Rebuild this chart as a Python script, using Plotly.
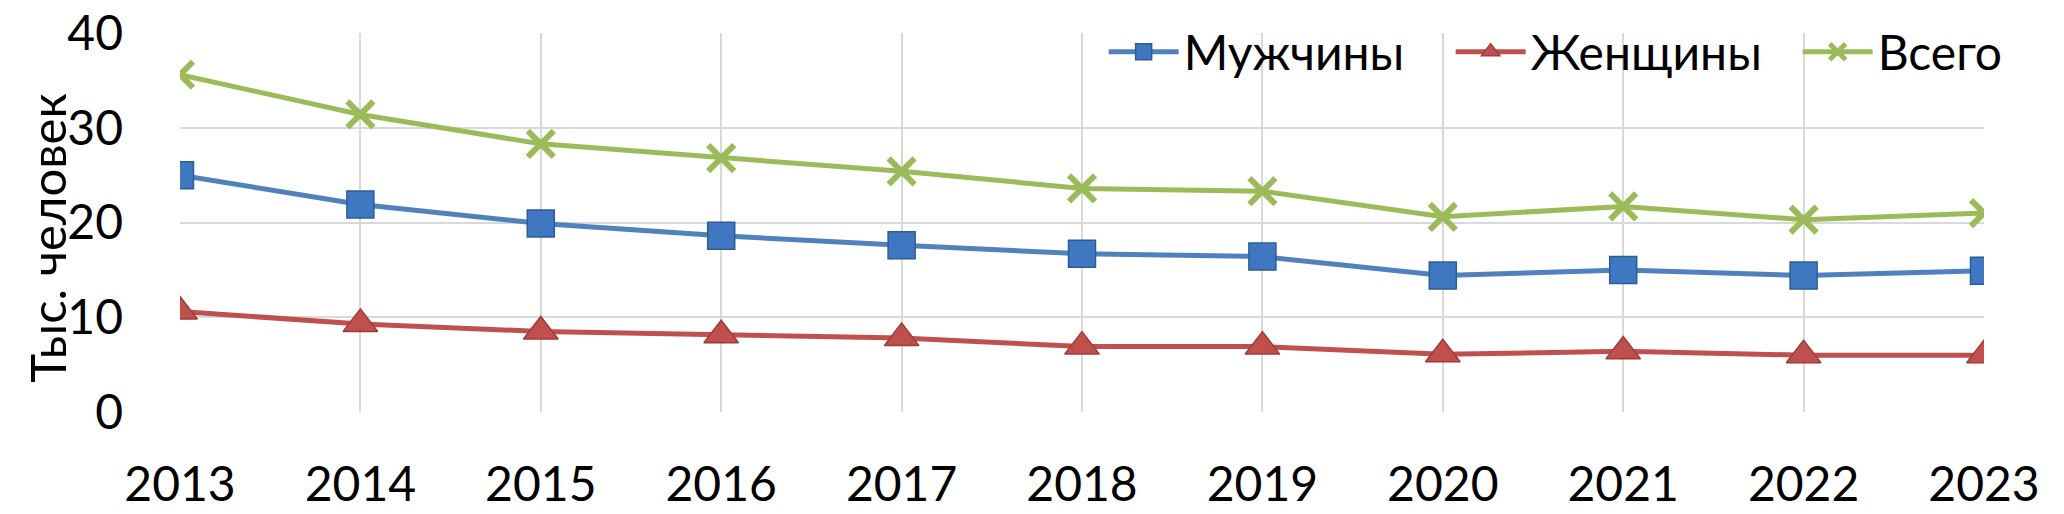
import plotly.graph_objects as go

years = ["2013", "2014", "2015", "2016", "2017", "2018", "2019", "2020", "2021", "2022", "2023"]
men = [25.0, 21.9, 19.9, 18.6, 17.6, 16.7, 16.4, 14.4, 15.0, 14.4, 14.9]
women = [10.6, 9.3, 8.5, 8.1, 7.8, 6.9, 6.9, 6.1, 6.4, 6.0, 6.0]
total = [35.6, 31.4, 28.3, 26.8, 25.4, 23.6, 23.3, 20.6, 21.7, 20.3, 21.0]
y_ticks = [0, 10, 20, 30, 40]

FONT = "Lato"
FS = 48
fig = go.Figure()
fig.add_trace(go.Scatter(x=years, y=men, name="Мужчины", mode="lines+markers",
                         line=dict(color="#4F81BD", width=5),
                         marker=dict(symbol="square", size=27, color="#3F78C0",
                                     line=dict(color="#2C5C96", width=1.5))))
fig.add_trace(go.Scatter(x=years, y=women, name="Женщины", mode="lines+markers",
                         line=dict(color="#C0504D", width=5),
                         marker=dict(symbol="triangle-up", size=30, color="#C0504D",
                                     line=dict(color="#9E3B38", width=1.5))))
fig.add_trace(go.Scatter(x=years, y=total, name="Всего", mode="lines+markers",
                         line=dict(color="#9BBB59", width=5),
                         marker=dict(symbol="x-thin", size=26, color="#9BBB59",
                                     line=dict(color="#9BBB59", width=6))))

fig.update_layout(
    width=2064, height=514,
    margin=dict(l=172, r=88, t=25, b=110, autoexpand=False),
    paper_bgcolor="white", plot_bgcolor="white",
    font=dict(family=FONT, size=FS, color="black"),
    showlegend=True,
    legend=dict(orientation="h", x=0.512, xanchor="left", y=0.95, yanchor="middle",
                bgcolor="rgba(0,0,0,0)", font=dict(size=FS, family=FONT),
                itemwidth=70, entrywidth=262, entrywidthmode="pixels", tracegroupgap=0),
    xaxis=dict(type="category", range=[0, 10], showgrid=True, gridcolor="#D9D9D9",
               gridwidth=2, zeroline=False, showline=False, ticks="", automargin=False,
               ticklabeloverflow="allow",
               ticklabelstandoff=40, tickfont=dict(size=FS, family=FONT)),
    yaxis=dict(range=[0, 40], tickvals=y_ticks, showgrid=True, gridcolor="#D9D9D9",
               gridwidth=2, zeroline=False, showline=False, ticks="", automargin=False,
               ticklabeloverflow="allow",
               ticklabelstandoff=56, tickfont=dict(size=FS, family=FONT)),
    annotations=[dict(text="Тыс. человек", textangle=-90, xref="paper", yref="paper",
                      x=-0.0737, y=0.46, xanchor="center", yanchor="middle", showarrow=False,
                      font=dict(size=49, family=FONT))],
)
fig.write_html("out.html")
